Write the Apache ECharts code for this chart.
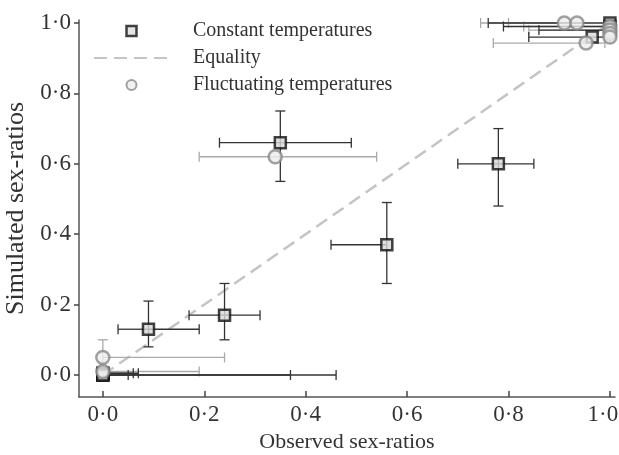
<!DOCTYPE html>
<html><head><meta charset="utf-8">
<script src="https://cdn.jsdelivr.net/npm/echarts@6/dist/echarts.min.js"></script>
<style>html,body{margin:0;padding:0;background:#fff}#c{width:619px;height:455px}</style>
</head><body><div id="c"></div>
<script>
// Tick labels
const tickValues = [0, 0.2, 0.4, 0.6, 0.8, 1.0];
const tickLabels = ['0·0', '0·2', '0·4', '0·6', '0·8', '1·0'];

// Constant temperatures (squares)
const consX   = [0.09, 0.24, 0.35, 0.56, 0.78, 0.965, 1.0, 1.0, 1.0, 0.0, 0.0, 0.0, 0.0, 0.0];
const consY   = [0.13, 0.17, 0.66, 0.37, 0.60, 0.96, 1.0, 0.99, 0.98, 0.0, 0.0, 0.005, 0.005, 0.0];
const consXLo = [0.03, 0.17, 0.23, 0.45, 0.70, 0.84, 0.76, 0.79, 0.86, null, null, null, null, null];
const consXHi = [0.19, 0.31, 0.49, null, 0.85, 1.0, null, null, null, 0.46, 0.37, 0.07, 0.06, 0.05];
const consYLo = [0.08, 0.10, 0.55, 0.26, 0.48, null, null, null, null, null, null, null, null, null];
const consYHi = [0.21, 0.26, 0.75, 0.49, 0.70, null, null, null, null, null, null, null, null, null];

// Fluctuating temperatures (circles)
const flucX   = [0.34, 0.0, 0.0, 0.91, 0.935, 0.953, 1.0, 1.0, 1.0, 1.0];
const flucY   = [0.62, 0.05, 0.01, 1.0, 1.0, 0.943, 0.99, 0.98, 0.97, 0.96];
const flucXLo = [0.19, null, null, 0.745, 0.80, 0.77, 0.83, 0.84, null, null];
const flucXHi = [0.54, 0.24, 0.19, null, null, 0.99, null, null, null, null];
const flucYLo = [null, 0.0, null, null, null, null, null, null, null, null];
const flucYHi = [null, 0.10, null, null, null, null, null, null, null, null];

// Equality line
const equality = [[0, 0], [1, 1]];

function segments(xs, ys, xlo, xhi, ylo, yhi) {
  const out = [];
  for (let i = 0; i < xs.length; i++) {
    if (xlo[i] != null) out.push([xs[i], ys[i], xlo[i], ys[i], 0]);
    if (xhi[i] != null) out.push([xs[i], ys[i], xhi[i], ys[i], 0]);
    if (ylo[i] != null) out.push([xs[i], ys[i], xs[i], ylo[i], 1]);
    if (yhi[i] != null) out.push([xs[i], ys[i], xs[i], yhi[i], 1]);
  }
  return out;
}
function pts(xs, ys) { return xs.map((x, i) => [x, ys[i]]); }

function errRender(color, width) {
  return function (params, api) {
    const a = api.coord([api.value(0), api.value(1)]);
    const b = api.coord([api.value(2), api.value(3)]);
    const vert = api.value(4) === 1;
    const c = 5;
    const cap = vert ? { x1: b[0] - c, y1: b[1], x2: b[0] + c, y2: b[1] }
                     : { x1: b[0], y1: b[1] - c, x2: b[0], y2: b[1] + c };
    const st = { stroke: color, lineWidth: width };
    return { type: 'group', children: [
      { type: 'line', shape: { x1: a[0], y1: a[1], x2: b[0], y2: b[1] }, style: st },
      { type: 'line', shape: cap, style: st }
    ]};
  };
}

const font = 'Liberation Serif';
const chart = echarts.init(document.getElementById('c'), null, { renderer: 'canvas' });
const fmt = v => { const i = tickValues.findIndex(t => Math.abs(t - v) < 1e-6); return i >= 0 ? tickLabels[i] : ''; };
const fmtX = v => { const s = fmt(v); return v >= 0.999 ? '{m|' + s + '}' : s; };

chart.setOption({
  animation: false,
  backgroundColor: '#fff',
  grid: { left: 79, right: 4, top: 20, bottom: 58, outerBoundsMode: 'none', containLabel: false },
  legend: {
    orient: 'vertical', left: 88, top: 16, itemWidth: 75, itemHeight: 10, itemGap: 7,
    data: [
      { name: 'Constant temperatures', icon: 'path://M0,0L10,0L10,10L0,10Z',
        itemStyle: { color: '#dddddd', borderColor: '#111', borderWidth: 2.5 } },
      { name: 'Equality', itemStyle: { color: 'rgba(0,0,0,0)', borderWidth: 0, opacity: 0 } },
      { name: 'Fluctuating temperatures', icon: 'circle' }
    ],
    textStyle: { fontFamily: font, fontSize: 20, color: '#333', padding: [0, 0, 0, 19] }
  },
  xAxis: {
    type: 'value', min: -0.047, max: 1.01,
    name: 'Observed sex-ratios', nameLocation: 'middle', nameGap: 28,
    nameTextStyle: { fontFamily: font, fontSize: 22, color: '#333' },
    splitLine: { show: false },
    axisLine: { onZero: false, lineStyle: { color: '#555', width: 1.5 } },
    axisTick: { inside: true, length: 6, lineStyle: { color: '#444', width: 1.5 }, customValues: tickValues },
    axisLabel: { customValues: tickValues, formatter: fmtX, fontFamily: font, fontSize: 23, color: '#333', margin: 6,
      rich: { m: { fontFamily: font, fontSize: 23, color: '#333', padding: [0, 14, 0, 0] } } }
  },
  yAxis: {
    type: 'value', min: -0.0625, max: 1.0085,
    name: 'Simulated sex-ratios', nameLocation: 'middle', nameGap: 47,
    nameTextStyle: { fontFamily: font, fontSize: 26, color: '#333' },
    splitLine: { show: false },
    axisLine: { show: true, onZero: false, lineStyle: { color: '#555', width: 1.5 } },
    axisTick: { show: true, inside: false, length: 5, lineStyle: { color: '#444', width: 1.5 }, customValues: tickValues },
    axisLabel: { customValues: tickValues, formatter: fmt, fontFamily: font, fontSize: 23, color: '#333', margin: 8 }
  },
  series: [
    { name: 'Equality', type: 'line', data: equality, symbol: 'none', z: 1,
      lineStyle: { color: '#c4c4c4', width: 2.5, type: [13, 7] }, itemStyle: { color: '#c4c4c4' } },
    { type: 'custom', renderItem: errRender('#aaaaaa', 1.3), data: segments(flucX, flucY, flucXLo, flucXHi, flucYLo, flucYHi),
      encode: { x: [0, 2], y: [1, 3] }, z: 2, silent: true, clip: false },
    { type: 'custom', renderItem: errRender('#333333', 1.3), data: segments(consX, consY, consXLo, consXHi, consYLo, consYHi),
      encode: { x: [0, 2], y: [1, 3] }, z: 3, silent: true, clip: false },
    { name: 'Constant temperatures', type: 'scatter', data: pts(consX, consY), symbol: 'rect', symbolSize: 11, z: 4,
      itemStyle: { color: '#d8d8d8', borderColor: '#111', borderWidth: 2.5 } },
    { name: 'Fluctuating temperatures', type: 'scatter', data: pts(flucX, flucY), symbol: 'circle', symbolSize: 13, z: 5,
      itemStyle: { color: '#eeeeee', borderColor: '#8a8a8a', borderWidth: 2.5 } }
  ]
});
</script></body></html>
